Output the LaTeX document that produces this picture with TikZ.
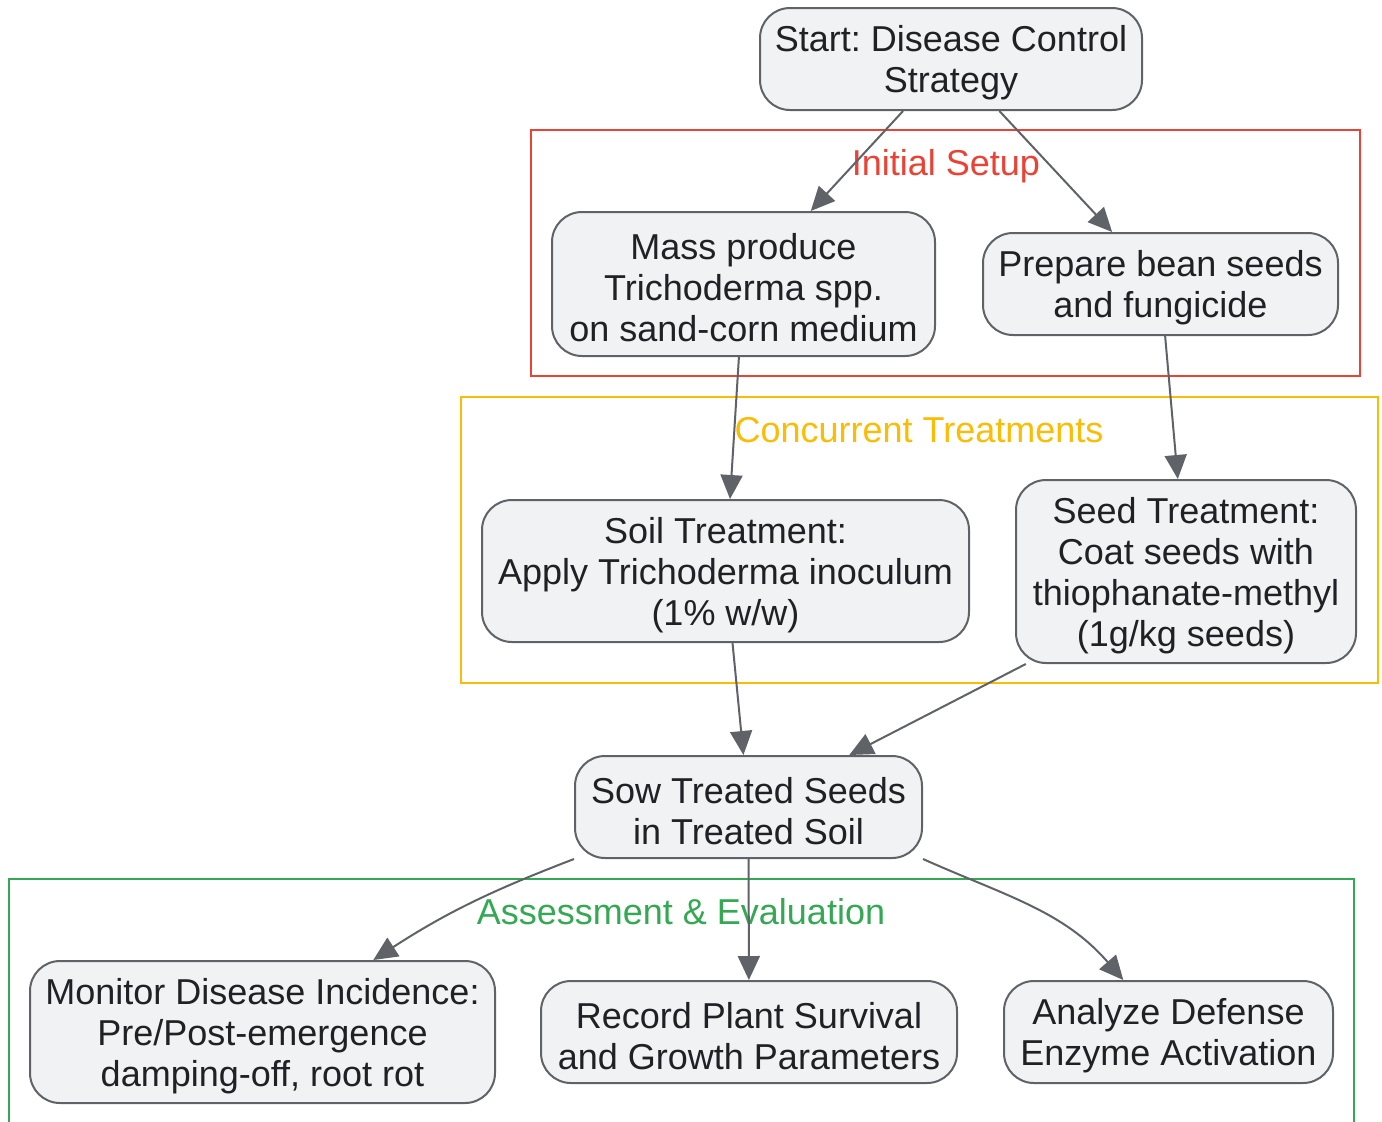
\documentclass[tikz,border=0pt]{standalone}
\usepackage{fontspec}
\setmainfont{Liberation Sans}
\frenchspacing
\usetikzlibrary{arrows.meta}
\definecolor{boxfill}{HTML}{F1F2F4}
\definecolor{boxline}{HTML}{5F6368}
\definecolor{textdark}{HTML}{202124}
\definecolor{setupred}{HTML}{EA4335}
\definecolor{treatyellow}{HTML}{FBBC04}
\definecolor{assessgreen}{HTML}{34A853}
\tikzset{
  flow box/.style={
    draw=boxline,
    fill=boxfill,
    line width=1pt,
    rounded corners=15pt,
    align=center,
    text=textdark,
    inner sep=0pt,
    font=\fontsize{18}{20.5}\selectfont,
  },
  group frame/.style={
    line width=1pt,
  },
  group label/.style={
    inner sep=0pt,
    font=\fontsize{18}{20.5}\selectfont,
  },
  flow arrow/.style={
    draw=boxline,
    line width=1pt,
    -{Triangle[length=12pt,width=11pt]},
  }
}
% strut on the first line pushes the text a little down
\newcommand{\firstline}{\rule{0pt}{17pt}}

\begin{document}
\begin{tikzpicture}[x=0.5pt, y=-0.5pt]

\useasboundingbox[fill=white] (0,0) rectangle (1382,1121);

% groups
\draw[group frame, setupred] (531,130) rectangle (1360,376);
\node[group label, text=setupred] (setuplabel) at (946,166) {Initial Setup};
\draw[group frame, treatyellow] (461,397) rectangle (1378,683);
\node[group label, text=treatyellow] (treatlabel) at (919,430) {Concurrent Treatments};
\draw[group frame, assessgreen] (9,879) rectangle (1354,1140);
\node[group label, text=assessgreen] (assesslabel) at (681,912) {Assessment \& Evaluation};

% steps
\node[flow box, minimum width=191pt, minimum height=51pt] (start) at (951,59)
  {\firstline Start: Disease Control\\Strategy};
\node[flow box, minimum width=191.5pt, minimum height=72pt] (mass) at (743.5,284)
  {\firstline Mass produce\\Trichoderma spp.\\on sand-corn medium};
\node[flow box, minimum width=177.5pt, minimum height=51pt] (prep) at (1160.5,284)
  {\firstline Prepare bean seeds\\and fungicide};
\node[flow box, minimum width=243.5pt, minimum height=71pt] (soil) at (725.5,571)
  {\firstline Soil Treatment:\\Apply Trichoderma inoculum\\(1\% w/w)};
\node[flow box, minimum width=170pt, minimum height=91.5pt] (seed) at (1186,571.5)
  {\firstline Seed Treatment:\\Coat seeds with\\thiophanate-methyl\\(1g/kg seeds)};
\node[flow box, minimum width=173.5pt, minimum height=51pt] (sow) at (748.5,807)
  {\firstline Sow Treated Seeds\\in Treated Soil};
\node[flow box, minimum width=232.5pt, minimum height=71pt] (monitor) at (262.5,1032)
  {\firstline Monitor Disease Incidence:\\Pre/Post-emergence\\damping-off, root rot};
\node[flow box, minimum width=208pt, minimum height=51pt] (record) at (749,1032)
  {\firstline Record Plant Survival\\and Growth Parameters};
\node[flow box, minimum width=164.5pt, minimum height=51pt] (analyze) at (1168.5,1032)
  {\firstline Analyze Defense\\Enzyme Activation};

% connectors
\draw[flow arrow] (start) -- (mass);
\draw[flow arrow] (start) -- (prep);
\draw[flow arrow] (mass) -- (soil);
\draw[flow arrow] (prep) -- (seed);
\draw[flow arrow] (soil) -- (sow);
\draw[flow arrow] (seed.-150) -- (sow);
\draw[flow arrow] (sow.south west) to[out=201, in=33] (monitor);
\draw[flow arrow] (sow) -- (record);
\draw[flow arrow] (sow.south east) to[out=336, in=131] (analyze);

\end{tikzpicture}
\end{document}
